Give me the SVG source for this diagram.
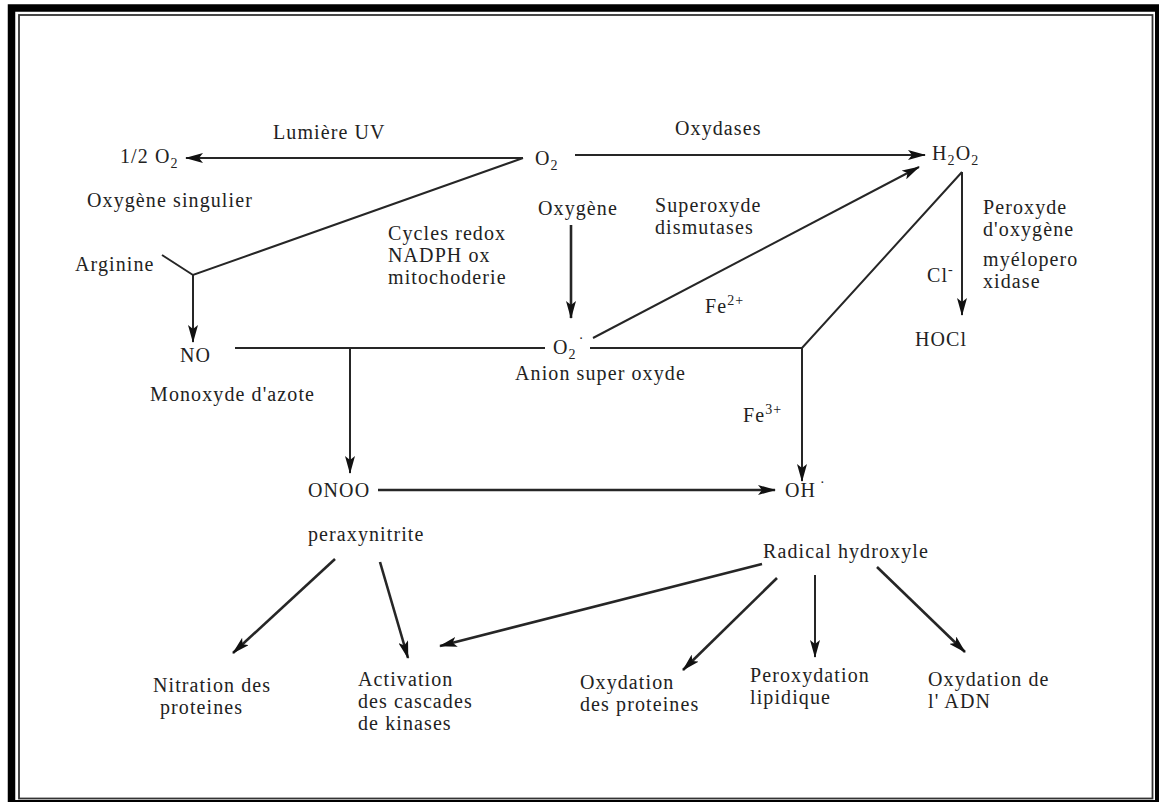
<svg xmlns="http://www.w3.org/2000/svg" width="1159" height="802" viewBox="0 0 1159 802">
<style>
text{font-family:"Liberation Serif","Times New Roman",serif;font-size:20px;letter-spacing:1.1px;fill:#222}
.sub{font-size:14px}
.c{stroke:#262626;stroke-width:2;fill:none}
.b{stroke-width:2.6}
</style>
<defs>
<marker id="ah" markerWidth="18" markerHeight="10" refX="17" refY="5" orient="auto" markerUnits="userSpaceOnUse">
<path d="M0,0 L18,5 L0,10 L4,5 Z" fill="#111"/>
</marker>
</defs>
<rect width="1159" height="802" fill="#fff"/>
<rect x="11.5" y="8" width="1147.25" height="795.75" fill="none" stroke="#000" stroke-width="7.5"/>
<rect x="19" y="15" width="1133.5" height="783.5" fill="none" stroke="#333" stroke-width="1.8"/>

<g id="connectors">
<line class="c" x1="523" y1="158" x2="186" y2="158" marker-end="url(#ah)"/>
<line class="c" x1="575" y1="155" x2="925" y2="155" marker-end="url(#ah)"/>
<polyline class="c" points="523,158 193,275 162,255"/>
<line class="c" x1="193" y1="275" x2="193" y2="342" marker-end="url(#ah)"/>
<line class="c b" x1="571" y1="225" x2="571" y2="318" marker-end="url(#ah)"/>
<line class="c" x1="593" y1="338" x2="919" y2="167" marker-end="url(#ah)"/>
<line class="c" x1="962" y1="172" x2="962" y2="315" marker-end="url(#ah)"/>
<polyline class="c" points="962,172 802,348 590,348"/>
<line class="c" x1="235" y1="348" x2="545" y2="348"/>
<line class="c" x1="350" y1="348" x2="350" y2="473" marker-end="url(#ah)"/>
<line class="c" x1="802" y1="348" x2="802" y2="481" marker-end="url(#ah)"/>
<line class="c b" x1="378" y1="490" x2="775" y2="490" marker-end="url(#ah)"/>
<line class="c b" x1="335" y1="559" x2="233" y2="653" marker-end="url(#ah)"/>
<line class="c b" x1="380" y1="562" x2="408" y2="658" marker-end="url(#ah)"/>
<line class="c b" x1="762" y1="564" x2="440" y2="646" marker-end="url(#ah)"/>
<line class="c b" x1="777" y1="578" x2="683" y2="670" marker-end="url(#ah)"/>
<line class="c" x1="815" y1="575" x2="815" y2="657" marker-end="url(#ah)"/>
<line class="c b" x1="877" y1="567" x2="965" y2="652" marker-end="url(#ah)"/>
</g>

<g id="lumiere"><text x="273" y="139">Lumière UV</text></g>
<g id="half-o2"><text x="120" y="163">1/2 O<tspan class="sub" dy="5">2</tspan></text></g>
<g id="o2"><text x="535" y="165">O<tspan class="sub" dy="5">2</tspan></text></g>
<g id="oxydases"><text x="675" y="135">Oxydases</text></g>
<g id="h2o2"><text x="932" y="160">H<tspan class="sub" dy="5">2</tspan><tspan dy="-5">O</tspan><tspan class="sub" dy="5">2</tspan></text></g>
<g id="singulier"><text x="87" y="207">Oxygène singulier</text></g>
<g id="oxygene"><text x="538" y="215">Oxygène</text></g>
<g id="sod"><text x="655" y="212">Superoxyde</text><text x="655" y="234">dismutases</text></g>
<g id="peroxyde"><text x="983" y="214">Peroxyde</text><text x="983" y="236">d'oxygène</text></g>
<g id="cycles"><text x="388" y="240">Cycles redox</text><text x="388" y="262">NADPH ox</text><text x="388" y="284">mitochoderie</text></g>
<g id="arginine"><text x="75" y="271">Arginine</text></g>
<g id="cl"><text x="927" y="282">Cl<tspan class="sub" dy="-8">-</tspan></text></g>
<g id="mpo"><text x="983" y="266">myélopero</text><text x="983" y="288">xidase</text></g>
<g id="fe2"><text x="705" y="313">Fe<tspan class="sub" dy="-8">2+</tspan></text></g>
<g id="no"><text x="180" y="362">NO</text><text x="150" y="401">Monoxyde d'azote</text></g>
<g id="o2-radical"><text x="553" y="354">O<tspan class="sub" dy="5">2</tspan><tspan class="sub" dx="2" dy="-16">·</tspan></text><text x="515" y="380">Anion super oxyde</text></g>
<g id="hocl"><text x="915" y="346">HOCl</text></g>
<g id="fe3"><text x="743" y="422">Fe<tspan class="sub" dy="-8">3+</tspan></text></g>
<g id="onoo"><text x="308" y="497">ONOO</text><text x="308" y="541">peraxynitrite</text></g>
<g id="oh"><text x="785" y="497">OH<tspan class="sub" dx="4" dy="-10">·</tspan></text><text x="763" y="558">Radical hydroxyle</text></g>
<g id="nitration"><text x="153" y="692">Nitration des</text><text x="160" y="714">proteines</text></g>
<g id="activation"><text x="358" y="686">Activation</text><text x="358" y="708">des cascades</text><text x="358" y="730">de kinases</text></g>
<g id="oxprot"><text x="580" y="689">Oxydation</text><text x="580" y="711">des proteines</text></g>
<g id="lipid"><text x="750" y="682">Peroxydation</text><text x="750" y="704">lipidique</text></g>
<g id="adn"><text x="928" y="686">Oxydation de</text><text x="928" y="708">l' ADN</text></g>
</svg>
